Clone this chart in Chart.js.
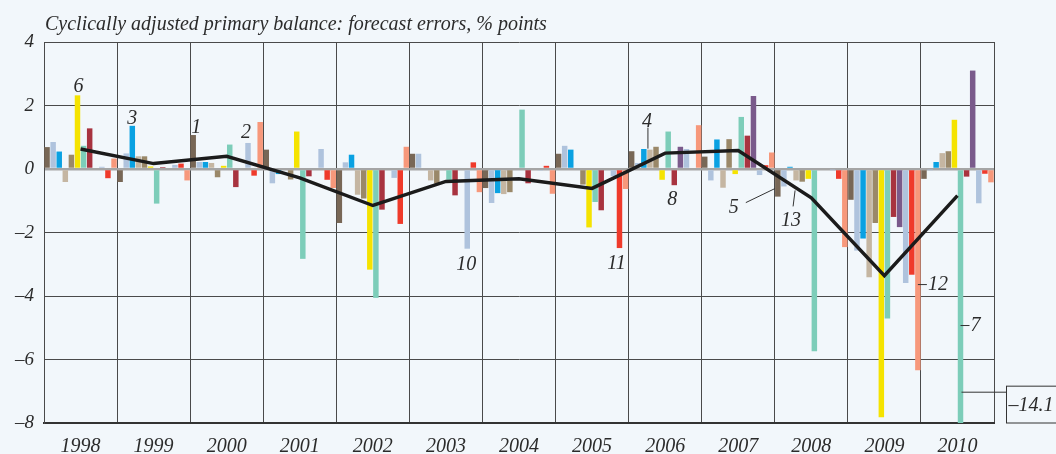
<!DOCTYPE html>
<html>
<head>
<meta charset="utf-8">
<script src="https://cdn.jsdelivr.net/npm/chart.js@4.4.1/dist/chart.umd.min.js"></script>
<style>
    html, body { margin: 0; padding: 0; background: #f2f7fb; }
    #wrap { width: 1056px; height: 454px; position: relative; }
</style>
</head>
<body>
<div id="wrap"><canvas id="chart" width="1056" height="454"></canvas></div>
<script>
// Years on the x axis
const years = ['1998', '1999', '2000', '2001', '2002', '2003', '2004',
               '2005', '2006', '2007', '2008', '2009', '2010'];

// Forecast errors, % points - one array per bar position in each year group
const s1  = [0.69, -0.41, 1.07, 0.61, -1.70, 0.48, -0.60, 0.48, 0.56, 0.39, -0.87, -0.97, -0.31];
const s2  = [0.85, 0.49, 0.22, -0.45, 0.21, 0.48, -1.07, 0.73, 0.19, -0.36, -0.55, -2.57, -0.02];
const s3  = [0.55, 1.36, 0.22, -0.16, 0.45, 0, -0.76, 0.61, 0.63, 0.93, 0.07, -2.19, 0.22];
const s4  = [-0.41, 0.40, 0.19, 0, -0.81, -0.36, -0.79, 0, 0.61, -0.59, -0.36, -3.41, 0.50];
const s5  = [0.45, 0.40, -0.26, -0.33, -0.93, -0.46, -0.73, -0.49, 0.70, 0.94, -0.40, -1.70, 0.56];
const s6  = [2.32, 0.08, 0.10, 1.18, -3.17, 0, 0, -1.84, -0.34, -0.16, -0.31, -7.82, 1.55];
const s7  = [0.73, -1.09, 0.77, -2.83, -4.06, -0.34, 1.87, -1.04, 1.18, 1.64, -5.74, -4.71, -14.1];
const s8  = [1.28, 0.06, -0.57, -0.23, -1.28, -0.83, -0.45, -1.30, -0.51, 1.05, 0.04, -1.51, -0.24];
const s9  = [0, 0, 0, 0, 0, 0, 0, 0, 0.70, 2.30, 0.04, -1.83, 3.10];
const s10 = [0.07, 0.13, 0.82, 0.63, -0.28, -2.51, -0.05, -0.23, 0.63, -0.19, -0.02, -3.59, -1.08];
const s11 = [-0.29, 0.17, -0.21, -0.34, -1.73, 0.21, 0.10, -2.49, 0, 0.12, -0.31, -3.33, -0.15];
const s12 = [0.33, -0.36, 1.48, -0.60, 0.70, -0.73, -0.78, -0.63, 1.38, 0.52, -2.46, -6.34, -0.42];

// Average (black line)
const average = [0.63, 0.17, 0.40, -0.28, -1.15, -0.39, -0.31, -0.61, 0.50, 0.58, -0.91, -3.36, -0.84];

// Y axis ticks
const yTicks = [4, 2, 0, -2, -4, -6, -8];

const barSeries = [s1, s2, s3, s4, s5, s6, s7, s8, s9, s10, s11, s12];
const barColors = ['#786756', '#afc3dd', '#0aa1e2', '#c5b6a2', '#9a8869', '#f5e300',
                   '#7dcdb9', '#a8333f', '#7a5a8b', '#afc3dd', '#ef3a2b', '#f7987b'];

const FONT = 'Liberation Serif';
const INK = '#2b2b2b';
const minus = v => (v < 0 ? '\u2013' + Math.abs(v) : String(v));

// Number labels attached to individual bars (year index, series index)
const barNotes = [
    { text: '6',  year: 0,  series: 5,  kind: 'above', dx: 1,  dy: 3 },
    { text: '3',  year: 1,  series: 2,  kind: 'above', dx: 0,  dy: 2 },
    { text: '1',  year: 2,  series: 0,  kind: 'above', dx: 3,  dy: 2 },
    { text: '2',  year: 2,  series: 9,  kind: 'above', dx: -2, dy: 5 },
    { text: '10', year: 5,  series: 9,  kind: 'below', dx: -1, dy: 6 },
    { text: '11', year: 7,  series: 10, kind: 'below', dx: -3, dy: 6 },
    { text: '8',  year: 8,  series: 7,  kind: 'below', dx: -2, dy: 5 },
    { text: '4',  year: 8,  series: 3,  kind: 'stem' },
    { text: '5',  year: 10, series: 0,  kind: 'slant' },
    { text: '13', year: 10, series: 3,  kind: 'foot' },
    { text: '12', year: 11, series: 11, kind: 'dash', at: -3.64 },
    { text: '7',  year: 12, series: 6,  kind: 'dash', at: -4.93 },
    { text: '\u201314.1', year: 12, series: 6, kind: 'box', at: -7.03 }
];

const notesPlugin = {
    id: 'notes',
    afterDraw(chart) {
        const ctx = chart.ctx;
        const area = chart.chartArea;
        const yScale = chart.scales.y;
        ctx.save();

        // title
        ctx.fillStyle = INK;
        ctx.font = 'italic 20px ' + FONT;
        ctx.textAlign = 'left';
        ctx.textBaseline = 'alphabetic';
        ctx.fillText('Cyclically adjusted primary balance: forecast errors, % points', area.left + 1, 30);

        ctx.strokeStyle = '#333';
        ctx.lineWidth = 1;
        barNotes.forEach(n => {
            const el = chart.getDatasetMeta(n.series).data[n.year];
            ctx.font = 'italic 20px ' + FONT;
            ctx.fillStyle = INK;
            if (n.kind === 'above') {
                ctx.textAlign = 'center';
                ctx.textBaseline = 'alphabetic';
                ctx.fillText(n.text, el.x + n.dx, el.y - n.dy);
            } else if (n.kind === 'below') {
                ctx.textAlign = 'center';
                ctx.textBaseline = 'top';
                ctx.fillText(n.text, el.x + n.dx, el.y + n.dy);
            } else if (n.kind === 'stem') {
                ctx.beginPath();
                ctx.moveTo(el.x - 2, el.y - 1);
                ctx.lineTo(el.x - 2, el.y - 22);
                ctx.stroke();
                ctx.textAlign = 'center';
                ctx.textBaseline = 'alphabetic';
                ctx.fillText(n.text, el.x - 3, el.y - 23);
            } else if (n.kind === 'slant') {
                const ex = el.x - 3, ey = el.y - 8;
                ctx.beginPath();
                ctx.moveTo(ex, ey);
                ctx.lineTo(ex - 29, ey + 14);
                ctx.stroke();
                ctx.textAlign = 'center';
                ctx.textBaseline = 'middle';
                ctx.fillText(n.text, ex - 41, ey + 19);
            } else if (n.kind === 'foot') {
                ctx.beginPath();
                ctx.moveTo(el.x - 1, el.y + 10);
                ctx.lineTo(el.x - 3, el.y + 26);
                ctx.stroke();
                ctx.textAlign = 'center';
                ctx.textBaseline = 'top';
                ctx.fillText(n.text, el.x - 5, el.y + 30);
            } else if (n.kind === 'dash') {
                const y = yScale.getPixelForValue(n.at);
                ctx.beginPath();
                ctx.moveTo(el.x, y);
                ctx.lineTo(el.x + 9, y);
                ctx.stroke();
                ctx.textAlign = 'left';
                ctx.textBaseline = 'middle';
                ctx.fillText(n.text, el.x + 10, y);
            } else if (n.kind === 'box') {
                const y = yScale.getPixelForValue(n.at);
                const bx = area.right + 12.5;
                const top = yScale.getPixelForValue(-6.84);
                ctx.beginPath();
                ctx.moveTo(el.x + 1, y);
                ctx.lineTo(bx, y);
                ctx.stroke();
                ctx.fillStyle = '#f2f7fb';
                ctx.fillRect(bx, top, 80, area.bottom - top);
                ctx.strokeRect(bx, top, 80, area.bottom - top);
                ctx.fillStyle = INK;
                ctx.textAlign = 'left';
                ctx.textBaseline = 'middle';
                ctx.fillText(n.text, bx + 2, (top + area.bottom) / 2 + 1);
            }
        });
        ctx.restore();
    }
};

const datasets = barSeries.map((values, i) => ({
    type: 'bar',
    data: values,
    backgroundColor: barColors[i],
    borderWidth: 0,
    categoryPercentage: 1.0,
    barPercentage: 0.9,
    order: 2
}));
datasets.push({
    type: 'line',
    data: average,
    borderColor: '#1b1b1b',
    borderWidth: 3.5,
    pointRadius: 0,
    tension: 0,
    order: 0
});

new Chart(document.getElementById('chart'), {
    type: 'bar',
    data: { labels: years, datasets: datasets },
    plugins: [notesPlugin],
    options: {
        responsive: false,
        animation: false,
        devicePixelRatio: 1,
        layout: { padding: { top: 42, right: 62, bottom: 0, left: 0 } },
        plugins: {
            legend: { display: false },
            tooltip: { enabled: false },
            title: { display: false }
        },
        scales: {
            x: {
                offset: true,
                grid: {
                    offset: true,
                    color: '#4a4a4a',
                    lineWidth: 1,
                    drawTicks: false
                },
                border: { color: '#333', width: 2 },
                ticks: {
                    color: INK,
                    padding: 12,
                    font: { family: FONT, size: 20, style: 'italic' },
                    maxRotation: 0
                },
                afterFit(scale) { scale.height = 31; }
            },
            y: {
                min: -8,
                max: 4,
                afterBuildTicks(scale) { scale.ticks = yTicks.map(v => ({ value: v })); },
                grid: {
                    color: c => (c.tick && c.tick.value === 0 ? '#a5a5a5' : (c.tick && c.tick.value === -8 ? '#333' : '#4a4a4a')),
                    lineWidth: c => (c.tick && c.tick.value === 0 ? 2.5 : (c.tick && c.tick.value === -8 ? 2 : 1)),
                    drawTicks: false
                },
                border: { color: '#4a4a4a', width: 1 },
                ticks: {
                    color: INK,
                    padding: 10,
                    font: { family: FONT, size: 19, style: 'italic' },
                    callback: v => minus(v)
                },
                afterFit(scale) { scale.width = 44; }
            }
        }
    }
});

// right border of the plot box
</script>
</body>
</html>
